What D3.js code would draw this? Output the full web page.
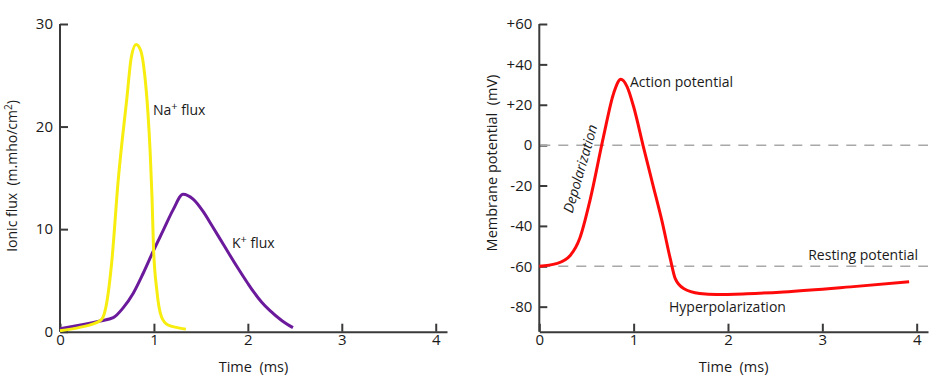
<!DOCTYPE html>
<html>
<head>
<meta charset="utf-8">
<script src="https://cdn.jsdelivr.net/npm/d3@7"></script>
<style>
  body { margin: 0; background: #fff; }
  svg text { font-family: "Open Sans", sans-serif; fill: #1a1a1a; white-space: pre; }
</style>
</head>
<body>
<div id="wrapper"></div>
<script>
// data: ionic flux (left panel)
const naTime = [0, 0.2, 0.43, 0.46, 0.497, 0.55, 0.62, 0.71, 0.76, 0.81, 0.86, 0.9, 0.935, 0.96, 0.98, 0.995, 1.03, 1.08, 1.15, 1.25, 1.34]
const naFlux = [0.1, 0.4, 1.1, 1.46, 2.8, 6.7, 14.8, 22.6, 26.8, 28.0, 27.4, 25.2, 21.5, 17.5, 13, 8.3, 4.1, 1.46, 0.65, 0.4, 0.25]
const kTime = [0, 0.426, 0.567, 0.67, 0.78, 0.886, 0.99, 1.1, 1.205, 1.31, 1.42, 1.525, 1.62, 1.74, 1.88, 2.0, 2.06, 2.15, 2.23, 2.36, 2.48]
const kFlux = [0.3, 1.05, 1.37, 2.3, 3.75, 5.7, 7.8, 9.9, 11.9, 13.4, 12.9, 11.7, 10.3, 8.5, 6.4, 4.7, 3.9, 2.85, 2.1, 1.1, 0.4]
const fluxTicks = [0, 10, 20, 30]

// data: membrane potential (right panel)
const vTime = [0, 0.18, 0.33, 0.43, 0.538, 0.68, 0.79, 0.864, 0.93, 1.0, 1.1, 1.2, 1.3, 1.387, 1.44, 1.53, 1.7, 1.88, 2.2, 2.59, 3.3, 3.92]
const vMem = [-60, -58.7, -54.5, -46, -27.2, 4.1, 26, 32.6, 29, 19, -0.2, -18.9, -37.5, -56, -66, -71, -73.5, -74, -73.6, -72.7, -70.2, -67.7]
const mvTicks = [-80, -60, -40, -20, 0, 20, 40, 60]
const refLines = [0, -60]
const timeTicks = [0, 1, 2, 3, 4]

const zip = (xs, ys) => xs.map((x, i) => ({ x: x, y: ys[i] }))

const width = 930
const height = 381

const wrapper = d3.select("#wrapper")
  .append("svg")
    .attr("width", width)
    .attr("height", height)

// scales
const xLeft = d3.scaleLinear().domain([0, 4.12]).range([60, 447])
const yLeft = d3.scaleLinear().domain([0, 30]).range([331.7, 24])
const xRight = d3.scaleLinear().domain([0, 4.12]).range([539.3, 928])
const yRight = d3.scaleLinear().domain([-92.4, 60]).range([331.7, 24])

function styleAxis(g) {
  g.select(".domain").attr("stroke", "#3a3a3a").attr("stroke-width", 2)
  g.selectAll(".tick line").attr("stroke", "#3a3a3a").attr("stroke-width", 2)
  g.selectAll(".tick text")
    .attr("font-size", 15)
    .attr("font-family", "Open Sans")
    .attr("fill", "#1a1a1a")
}

function drawPanel(xScale, yScale, yTicks, yFormat) {
  const x0 = xScale.range()[0]
  const yBase = yScale.range()[0]

  const xAxis = wrapper.append("g")
    .attr("transform", `translate(0, ${yBase})`)
    .call(d3.axisBottom(xScale)
      .tickValues(timeTicks)
      .tickFormat(d3.format("d"))
      .tickSizeInner(-8)
      .tickSizeOuter(0)
      .tickPadding(3))
  styleAxis(xAxis)

  const yAxis = wrapper.append("g")
    .attr("transform", `translate(${x0}, 0)`)
    .call(d3.axisLeft(yScale)
      .tickValues(yTicks)
      .tickFormat(yFormat)
      .tickSizeInner(-8)
      .tickSizeOuter(0)
      .tickPadding(7))
  styleAxis(yAxis)
  yAxis.select(".domain").attr("d", `M0,${yScale.range()[0]}V${yScale(yTicks[yTicks.length - 1])}`)

  wrapper.append("text")
    .attr("x", (xScale(0) + xScale(4.12)) / 2)
    .attr("y", 372)
    .attr("text-anchor", "middle")
    .attr("font-size", 14.5)
    .text("Time  (ms)")
}

// ---- left panel ----
drawPanel(xLeft, yLeft, fluxTicks, d3.format("d"))

const lineLeft = d3.line()
  .x(d => xLeft(d.x))
  .y(d => yLeft(d.y))
  .curve(d3.curveMonotoneX)

wrapper.append("path")
  .datum(zip(kTime, kFlux))
  .attr("d", lineLeft)
  .attr("fill", "none")
  .attr("stroke", "#6c1a9c")
  .attr("stroke-width", 3)

wrapper.append("path")
  .datum(zip(naTime, naFlux))
  .attr("d", lineLeft)
  .attr("fill", "none")
  .attr("stroke", "#f7ee0f")
  .attr("stroke-width", 3)

const naLabel = wrapper.append("text")
  .attr("x", 153).attr("y", 115).attr("font-size", 14)
naLabel.append("tspan").text("Na")
naLabel.append("tspan").attr("dy", -5).attr("font-size", 11).text("+")
naLabel.append("tspan").attr("dy", 5).text(" flux")

const kLabel = wrapper.append("text")
  .attr("x", 232).attr("y", 248).attr("font-size", 14)
kLabel.append("tspan").text("K")
kLabel.append("tspan").attr("dy", -5).attr("font-size", 11).text("+")
kLabel.append("tspan").attr("dy", 5).text(" flux")

const yLabelLeft = wrapper.append("text")
  .attr("transform", "translate(17, 176) rotate(-90)")
  .attr("text-anchor", "middle")
  .attr("font-size", 14)
yLabelLeft.append("tspan").text("Ionic flux  (m.mho/cm")
yLabelLeft.append("tspan").attr("dy", -5).attr("font-size", 10).text("2")
yLabelLeft.append("tspan").attr("dy", 5).text(")")

// ---- right panel ----
drawPanel(xRight, yRight, mvTicks, d => d > 0 ? "+" + d : String(d))

wrapper.append("g")
  .selectAll("line")
  .data(refLines)
  .enter()
    .append("line")
    .attr("x1", xRight(0) + 1)
    .attr("x2", xRight(4.12))
    .attr("y1", d => yRight(d))
    .attr("y2", d => yRight(d))
    .attr("stroke", "#a8a8a8")
    .attr("stroke-width", 1.5)
    .attr("stroke-dasharray", "10,8")

const lineRight = d3.line()
  .x(d => xRight(d.x))
  .y(d => yRight(d.y))
  .curve(d3.curveMonotoneX)

wrapper.append("path")
  .datum(zip(vTime, vMem))
  .attr("d", lineRight)
  .attr("fill", "none")
  .attr("stroke", "#ff0a0a")
  .attr("stroke-width", 3)

wrapper.append("text")
  .attr("x", 630).attr("y", 87).attr("font-size", 14)
  .text("Action potential")

wrapper.append("text")
  .attr("transform", "translate(585, 170) rotate(-74)")
  .attr("text-anchor", "middle")
  .attr("font-size", 14)
  .attr("font-style", "italic")
  .text("Depolarization")

wrapper.append("text")
  .attr("x", 918).attr("y", 260).attr("font-size", 14)
  .attr("text-anchor", "end")
  .text("Resting potential")

wrapper.append("text")
  .attr("x", 669).attr("y", 312).attr("font-size", 14)
  .text("Hyperpolarization")

wrapper.append("text")
  .attr("transform", "translate(497, 163) rotate(-90)")
  .attr("text-anchor", "middle")
  .attr("font-size", 14.5)
  .text("Membrane potential  (mV)")
</script>
</body>
</html>
